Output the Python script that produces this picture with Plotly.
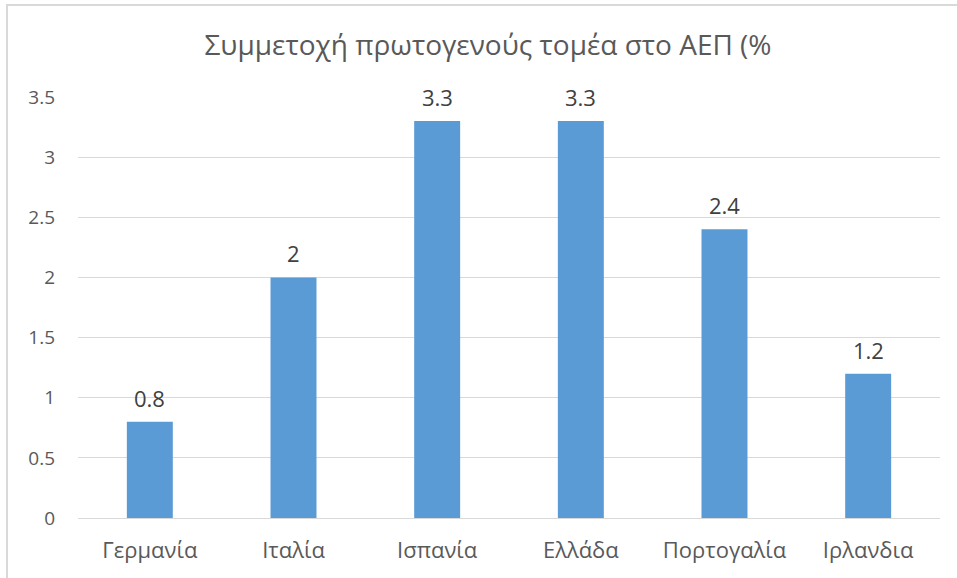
import plotly.graph_objects as go

countries = ["Γερμανία", "Ιταλία", "Ισπανία", "Ελλάδα", "Πορτογαλία", "Ιρλανδια"]
shares = [0.8, 2, 3.3, 3.3, 2.4, 1.2]
y_ticks = [0, 0.5, 1, 1.5, 2, 2.5, 3, 3.5]
y_tick_text = ["0", "0.5", "1", "1.5", "2", "2.5", "3", "3.5"]
title_text = "Συμμετοχή πρωτογενούς τομέα στο ΑΕΠ (%"

W, H = 957, 578
ML, MR, MT, MB = 78, 17, 97, 60
PW, PH = W - ML - MR, H - MT - MB

FONT = "Open Sans"
TEXT = "#595959"

fig = go.Figure(
    go.Bar(
        x=countries,
        y=shares,
        marker=dict(color="#5B9BD5", line=dict(width=0)),
        hoverinfo="x+y",
    )
)

# value labels above each bar
for c, v in zip(countries, shares):
    fig.add_annotation(
        x=c, y=v, text=f"{v:g}", showarrow=False,
        yshift=24, yanchor="middle",
        font=dict(family=FONT, size=22, color="#404040"),
    )

# chart frame (top and left edges)
def px_x(p):
    return (p - ML) / PW

def px_y(p):
    return 1 - (p - MT) / PH

fig.add_shape(type="line", xref="paper", yref="paper",
              x0=px_x(6), x1=px_x(957), y0=px_y(5), y1=px_y(5),
              line=dict(color="#D9D9D9", width=2))
fig.add_shape(type="line", xref="paper", yref="paper",
              x0=px_x(7), x1=px_x(7), y0=px_y(5), y1=px_y(578),
              line=dict(color="#D9D9D9", width=2))

fig.update_layout(
    width=W, height=H,
    margin=dict(l=ML, r=MR, t=MT, b=MB),
    paper_bgcolor="white", plot_bgcolor="white",
    bargap=0.68,
    showlegend=False,
    title=dict(text=title_text, x=488 / W, xref="container", xanchor="center",
               y=1 - 45 / H, yanchor="middle",
               font=dict(family=FONT, size=28, color=TEXT)),
    font=dict(family=FONT, color=TEXT),
    xaxis=dict(showgrid=False, showline=True, linecolor="#D9D9D9", linewidth=1,
               ticks="", tickfont=dict(family=FONT, size=22, color=TEXT),
               ticklabelstandoff=13),
    yaxis=dict(range=[0, 3.5], tickvals=y_ticks, ticktext=y_tick_text,
               showgrid=True, gridcolor="#D9D9D9", gridwidth=1,
               zeroline=False, showline=False, ticks="",
               tickfont=dict(family=FONT, size=19, color=TEXT),
               ticklabelstandoff=22),
)

fig.write_html("out.html")
